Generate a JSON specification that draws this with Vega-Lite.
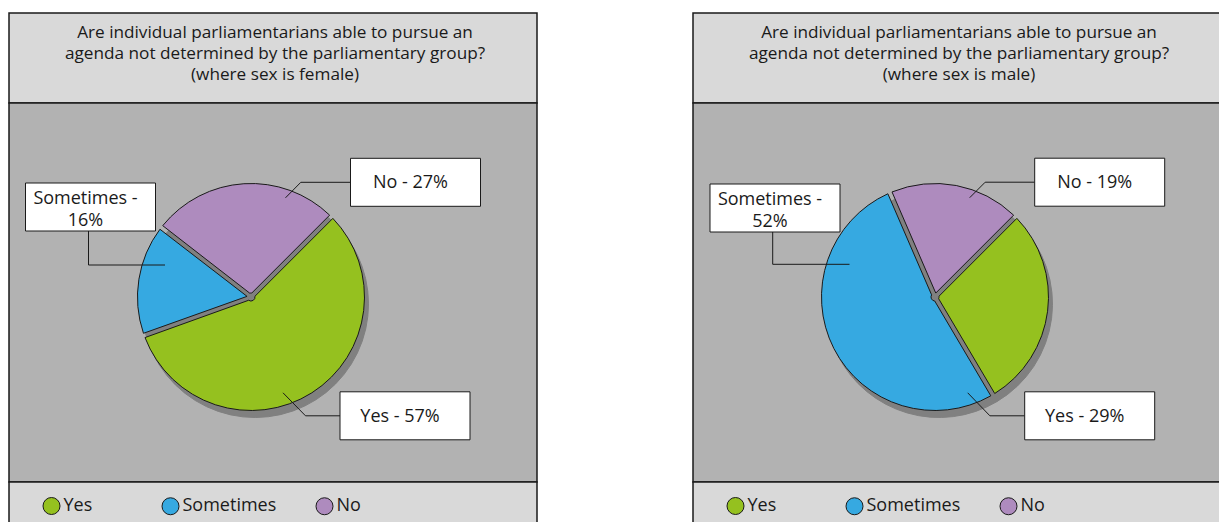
{
  "$schema": "https://vega.github.io/schema/vega-lite/v6.json",
  "background": "white",
  "padding": {"left": 8, "top": 12, "right": 0, "bottom": 0},
  "datasets": {
    "female": [
      {"answer": "Yes", "value": 57, "rank": 1, "label": "Yes - 57%"},
      {"answer": "Sometimes", "value": 16, "rank": 2, "label": "Sometimes -\n16%"},
      {"answer": "No", "value": 27, "rank": 3, "label": "No - 27%"}
    ],
    "male": [
      {"answer": "Yes", "value": 29, "rank": 1, "label": "Yes - 29%"},
      {"answer": "Sometimes", "value": 52, "rank": 2, "label": "Sometimes -\n52%"},
      {"answer": "No", "value": 19, "rank": 3, "label": "No - 19%"}
    ]
  },
  "spacing": 154,
  "resolve": {"scale": {"color": "independent", "fill": "independent", "shape": "independent", "theta": "independent", "x": "independent", "y": "independent"}, "legend": {"color": "independent", "fill": "independent"}},
  "hconcat": [
    {
      "spacing": 0,
      "bounds": "flush",
      "resolve": {"scale": {"color": "independent", "fill": "independent", "shape": "independent", "theta": "independent", "x": "independent", "y": "independent"}, "legend": {"color": "independent", "fill": "independent"}},
      "vconcat": [
        {
          "width": 528, "height": 90,
          "view": {"fill": "#d9d9d9", "stroke": "#1a1a1a", "strokeWidth": 1.5},
          "data": {"values": [{}]},
          "mark": {"type": "text", "font": "Open Sans", "fontSize": 17.2, "lineHeight": 21, "dy": -25, "dx": 2, "color": "#1a1a1a", "align": "center", "baseline": "middle"},
          "encoding": {"text": {"value": ["Are individual parliamentarians able to pursue an", "agenda not determined by the parliamentary group?", "(where sex is female)"]}}
        },
        {
          "width": 528, "height": 379,
          "view": {"fill": "#b2b2b2", "stroke": "#1a1a1a", "strokeWidth": 1.5},
          "data": {"name": "female"},
          "resolve": {"scale": {"y": "independent"}},
          "layer": [
            {
              "mark": {"type": "arc", "radius": 113.5, "fill": "#808080", "stroke": "#808080", "strokeWidth": 1, "xOffset": -18, "yOffset": 11.5},
              "encoding": {
                "theta": {"field": "value", "type": "quantitative", "stack": true, "scale": {"range": [0.7854, 7.0686]}},
                "order": {"field": "rank", "type": "quantitative"}
              }
            },
            {
              "mark": {"type": "arc", "radius": 113.5, "innerRadius": 4, "padAngle": 0.04, "stroke": "#1a1a1a", "strokeWidth": 1, "xOffset": -22, "yOffset": 4.5},
              "encoding": {
                "theta": {"field": "value", "type": "quantitative", "stack": true, "scale": {"range": [0.7854, 7.0686]}},
                "order": {"field": "rank", "type": "quantitative"},
                "color": {"field": "answer", "type": "nominal", "scale": {"domain": ["Yes", "Sometimes", "No"], "range": ["#95c11f", "#36a9e1", "#ae8bbe"]}, "legend": null}
              }
            },
            {
              "mark": {"type": "point", "filled": false, "size": 4, "stroke": "#1a1a1a", "strokeWidth": 1, "opacity": 1},
              "encoding": {
                "x": {"field": "rank", "type": "quantitative", "scale": {"domain": [1, 2, 3], "range": [396, 81.5, 406.5], "nice": false, "zero": false}, "axis": null},
                "y": {"field": "rank", "type": "quantitative", "scale": {"domain": [1, 2, 3], "range": [312.8, 104, 79.3], "nice": false, "zero": false}, "axis": null},
                "shape": {"field": "answer", "type": "nominal", "scale": {"domain": ["Yes", "Sometimes", "No"], "range": ["M-122,-23L-99.5,0L-65,0", "M-2,24L-2,58L74.5,58", "M-130,15.5L-114.7,0L-65,0"]}, "legend": null}
              }
            },
            {
              "mark": {"type": "point", "filled": true, "size": 4, "shape": "M-65,-24H65V24H-65Z", "fill": "white", "stroke": "#1a1a1a", "strokeWidth": 1, "opacity": 1},
              "encoding": {
                "x": {"field": "rank", "type": "quantitative", "scale": {"domain": [1, 2, 3], "range": [396, 81.5, 406.5], "nice": false, "zero": false}, "axis": null},
                "y": {"field": "rank", "type": "quantitative", "scale": {"domain": [1, 2, 3], "range": [312.8, 104, 79.3], "nice": false, "zero": false}, "axis": null}
              }
            },
            {
              "mark": {"type": "text", "font": "Open Sans", "fontSize": 18, "lineBreak": "\n", "lineHeight": 22, "dx": -5, "dy": 1, "align": "center", "baseline": "middle", "color": "#1a1a1a"},
              "encoding": {
                "x": {"field": "rank", "type": "quantitative", "scale": {"domain": [1, 2, 3], "range": [396, 81.5, 406.5], "nice": false, "zero": false}, "axis": null},
                "y": {"field": "rank", "type": "quantitative", "scale": {"domain": [1, 2, 3], "range": [312.8, 95, 79.3], "nice": false, "zero": false}, "axis": null},
                "text": {"field": "label"}
              }
            }
          ]
        },
        {
          "width": 528, "height": 44,
          "view": {"fill": "#d9d9d9", "stroke": "#1a1a1a", "strokeWidth": 1.5},
          "data": {"name": "female"},
          "layer": [
            {
              "transform": [{"filter": "datum.answer == 'Yes'"}],
              "mark": {"type": "arc", "radius": 0.01},
              "encoding": {
                "theta": {"field": "value", "type": "quantitative"},
                "color": {"field": "answer", "type": "nominal", "scale": {"domain": ["Yes"], "range": ["#95c11f"]},
                  "legend": {"title": null, "orient": "none", "legendX": 33.5, "legendY": 15, "direction": "horizontal", "padding": 0, "symbolType": "circle", "symbolSize": 289, "symbolStrokeColor": "#1a1a1a", "symbolStrokeWidth": 1, "labelFont": "Open Sans", "labelFontSize": 18, "labelColor": "#1a1a1a", "labelOffset": 3}}
              }
            },
            {
              "transform": [{"filter": "datum.answer != 'Yes'"}],
              "mark": {"type": "arc", "radius": 0.01},
              "encoding": {
                "theta": {"field": "value", "type": "quantitative"},
                "fill": {"field": "answer", "type": "nominal", "scale": {"domain": ["Sometimes", "No"], "range": ["#36a9e1", "#ae8bbe"]},
                  "legend": {"title": null, "orient": "none", "legendX": 152.5, "legendY": 15, "direction": "horizontal", "padding": 0, "symbolType": "circle", "symbolSize": 289, "symbolStrokeColor": "#1a1a1a", "symbolStrokeWidth": 1, "labelFont": "Open Sans", "labelFontSize": 18, "labelColor": "#1a1a1a", "labelOffset": 3, "columnPadding": 37}}
              }
            }
          ]
        }
      ]
    },
    {
      "spacing": 0,
      "bounds": "flush",
      "resolve": {"scale": {"color": "independent", "fill": "independent", "shape": "independent", "theta": "independent", "x": "independent", "y": "independent"}, "legend": {"color": "independent", "fill": "independent"}},
      "vconcat": [
        {
          "width": 530, "height": 90,
          "view": {"fill": "#d9d9d9", "stroke": "#1a1a1a", "strokeWidth": 1.5},
          "data": {"values": [{}]},
          "mark": {"type": "text", "font": "Open Sans", "fontSize": 17.2, "lineHeight": 21, "dy": -25, "dx": 1, "color": "#1a1a1a", "align": "center", "baseline": "middle"},
          "encoding": {"text": {"value": ["Are individual parliamentarians able to pursue an", "agenda not determined by the parliamentary group?", "(where sex is male)"]}}
        },
        {
          "width": 530, "height": 379,
          "view": {"fill": "#b2b2b2", "stroke": "#1a1a1a", "strokeWidth": 1.5},
          "data": {"name": "male"},
          "resolve": {"scale": {"y": "independent"}},
          "layer": [
            {
              "mark": {"type": "arc", "radius": 113.5, "fill": "#808080", "stroke": "#808080", "strokeWidth": 1, "xOffset": -19, "yOffset": 11.5},
              "encoding": {
                "theta": {"field": "value", "type": "quantitative", "stack": true, "scale": {"range": [0.7854, 7.0686]}},
                "order": {"field": "rank", "type": "quantitative"}
              }
            },
            {
              "mark": {"type": "arc", "radius": 113.5, "innerRadius": 4, "padAngle": 0.04, "stroke": "#1a1a1a", "strokeWidth": 1, "xOffset": -23, "yOffset": 4.5},
              "encoding": {
                "theta": {"field": "value", "type": "quantitative", "stack": true, "scale": {"range": [0.7854, 7.0686]}},
                "order": {"field": "rank", "type": "quantitative"},
                "color": {"field": "answer", "type": "nominal", "scale": {"domain": ["Yes", "Sometimes", "No"], "range": ["#95c11f", "#36a9e1", "#ae8bbe"]}, "legend": null}
              }
            },
            {
              "mark": {"type": "point", "filled": false, "size": 4, "stroke": "#1a1a1a", "strokeWidth": 1, "opacity": 1},
              "encoding": {
                "x": {"field": "rank", "type": "quantitative", "scale": {"domain": [1, 2, 3], "range": [396.7, 82, 406.7], "nice": false, "zero": false}, "axis": null},
                "y": {"field": "rank", "type": "quantitative", "scale": {"domain": [1, 2, 3], "range": [312.8, 105, 79.2], "nice": false, "zero": false}, "axis": null},
                "shape": {"field": "answer", "type": "nominal", "scale": {"domain": ["Yes", "Sometimes", "No"], "range": ["M-122,-23L-99.8,0L-65,0", "M-2.3,24L-2.3,56.3L74.5,56.3", "M-130,15.5L-114.5,0L-65,0"]}, "legend": null}
              }
            },
            {
              "mark": {"type": "point", "filled": true, "size": 4, "shape": "M-65,-24H65V24H-65Z", "fill": "white", "stroke": "#1a1a1a", "strokeWidth": 1, "opacity": 1},
              "encoding": {
                "x": {"field": "rank", "type": "quantitative", "scale": {"domain": [1, 2, 3], "range": [396.7, 82, 406.7], "nice": false, "zero": false}, "axis": null},
                "y": {"field": "rank", "type": "quantitative", "scale": {"domain": [1, 2, 3], "range": [312.8, 105, 79.2], "nice": false, "zero": false}, "axis": null}
              }
            },
            {
              "mark": {"type": "text", "font": "Open Sans", "fontSize": 18, "lineBreak": "\n", "lineHeight": 22, "dx": -5, "dy": 1, "align": "center", "baseline": "middle", "color": "#1a1a1a"},
              "encoding": {
                "x": {"field": "rank", "type": "quantitative", "scale": {"domain": [1, 2, 3], "range": [396.7, 82, 406.7], "nice": false, "zero": false}, "axis": null},
                "y": {"field": "rank", "type": "quantitative", "scale": {"domain": [1, 2, 3], "range": [312.8, 96, 79.2], "nice": false, "zero": false}, "axis": null},
                "text": {"field": "label"}
              }
            }
          ]
        },
        {
          "width": 530, "height": 44,
          "view": {"fill": "#d9d9d9", "stroke": "#1a1a1a", "strokeWidth": 1.5},
          "data": {"name": "male"},
          "layer": [
            {
              "transform": [{"filter": "datum.answer == 'Yes'"}],
              "mark": {"type": "arc", "radius": 0.01},
              "encoding": {
                "theta": {"field": "value", "type": "quantitative"},
                "color": {"field": "answer", "type": "nominal", "scale": {"domain": ["Yes"], "range": ["#95c11f"]},
                  "legend": {"title": null, "orient": "none", "legendX": 33.5, "legendY": 15, "direction": "horizontal", "padding": 0, "symbolType": "circle", "symbolSize": 289, "symbolStrokeColor": "#1a1a1a", "symbolStrokeWidth": 1, "labelFont": "Open Sans", "labelFontSize": 18, "labelColor": "#1a1a1a", "labelOffset": 3}}
              }
            },
            {
              "transform": [{"filter": "datum.answer != 'Yes'"}],
              "mark": {"type": "arc", "radius": 0.01},
              "encoding": {
                "theta": {"field": "value", "type": "quantitative"},
                "fill": {"field": "answer", "type": "nominal", "scale": {"domain": ["Sometimes", "No"], "range": ["#36a9e1", "#ae8bbe"]},
                  "legend": {"title": null, "orient": "none", "legendX": 152.5, "legendY": 15, "direction": "horizontal", "padding": 0, "symbolType": "circle", "symbolSize": 289, "symbolStrokeColor": "#1a1a1a", "symbolStrokeWidth": 1, "labelFont": "Open Sans", "labelFontSize": 18, "labelColor": "#1a1a1a", "labelOffset": 3, "columnPadding": 37}}
              }
            }
          ]
        }
      ]
    }
  ]
}
